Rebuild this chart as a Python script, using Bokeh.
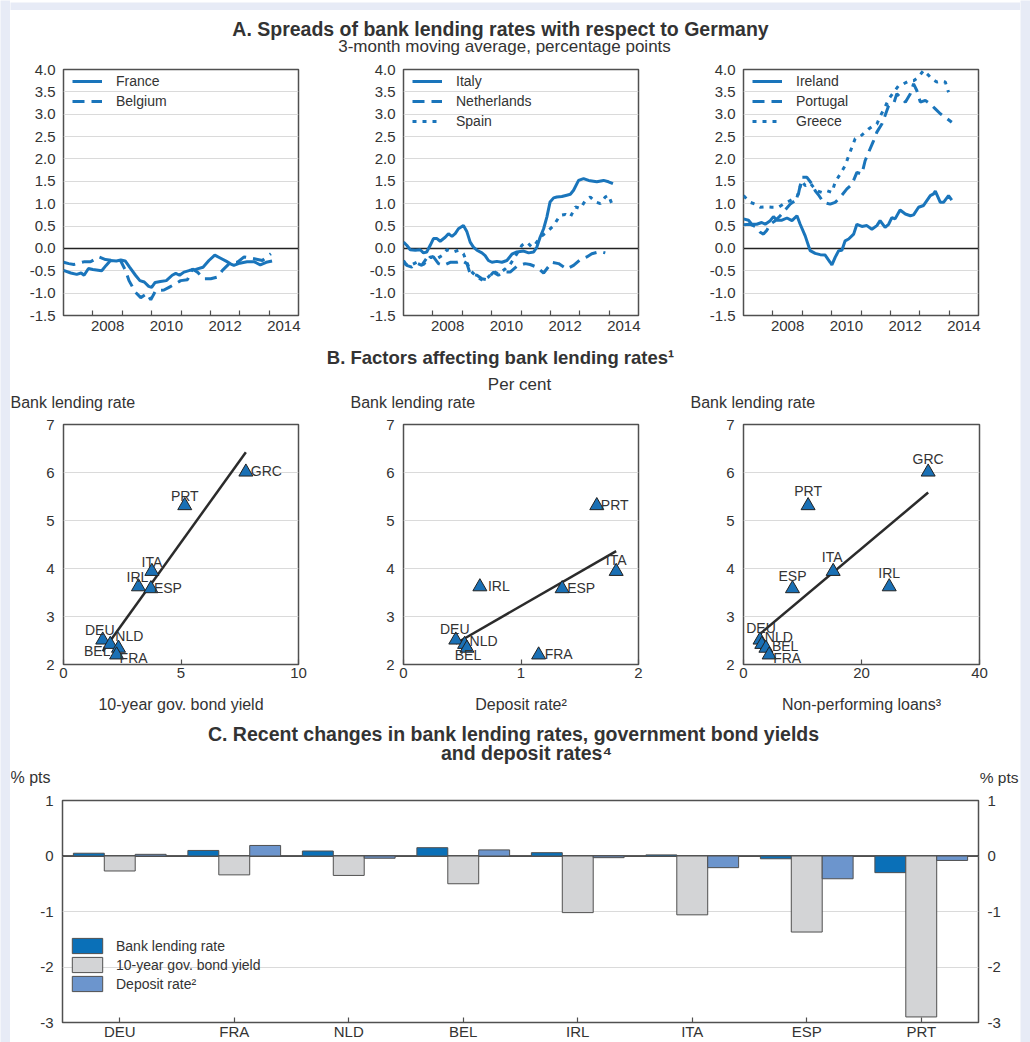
import numpy as np
from bokeh.plotting import figure
from bokeh.models import (Range1d, FixedTicker, Span, Label, Legend, LegendItem,
                          LinearAxis, FactorRange, ColumnDataSource, PrintfTickFormatter)
from bokeh.layouts import column, row
from bokeh.transform import dodge
from bokeh.embed import file_html
from bokeh.resources import INLINE
from bokeh.core.properties import value

FONT = "Liberation Sans"
TXT = "#333333"
LINE_BLUE = "#1a75bb"
FRAME = "#505050"
GRID = "#dadada"
TRI_BLUE = "#1a70b5"
PAGE_BG = "#e7ebf6"

# ---------------- Panel A data: (decimal year, spread in % pts) ----------------
france = [(2007.00,-0.49),(2007.25,-0.55),(2007.45,-0.58),(2007.60,-0.55),(2007.70,-0.60),(2007.85,-0.45),
          (2008.00,-0.47),(2008.30,-0.50),(2008.45,-0.38),(2008.60,-0.27),(2008.80,-0.28),(2008.95,-0.26),
          (2009.10,-0.28),(2009.25,-0.42),(2009.45,-0.60),(2009.60,-0.72),(2009.75,-0.75),(2009.90,-0.85),
          (2010.00,-0.87),(2010.12,-0.76),(2010.30,-0.74),(2010.50,-0.72),(2010.70,-0.60),(2010.82,-0.56),
          (2010.95,-0.60),(2011.10,-0.53),(2011.30,-0.49),(2011.50,-0.47),(2011.75,-0.42),(2011.95,-0.27),
          (2012.15,-0.15),(2012.35,-0.22),(2012.55,-0.29),(2012.70,-0.35),(2012.80,-0.38),(2013.00,-0.33),
          (2013.25,-0.30),(2013.50,-0.30),(2013.70,-0.37),(2013.90,-0.31),(2014.10,-0.28)]
belgium = [(2007.00,-0.31),(2007.18,-0.34),(2007.35,-0.36),(2007.69,-0.30),(2007.92,-0.30),(2008.20,-0.19),
           (2008.43,-0.25),(2008.72,-0.27),(2008.94,-0.27),(2009.11,-0.49),(2009.23,-0.72),(2009.45,-0.98),
           (2009.63,-1.10),(2009.85,-1.01),(2009.97,-1.15),(2010.14,-0.94),(2010.42,-0.93),(2010.59,-0.87),
           (2010.76,-0.81),(2010.99,-0.72),(2011.22,-0.70),(2011.39,-0.46),(2011.56,-0.53),(2011.78,-0.68),
           (2012.01,-0.68),(2012.24,-0.64),(2012.41,-0.49),(2012.69,-0.31),(2012.92,-0.31),(2013.15,-0.19),
           (2013.49,-0.23),(2013.77,-0.27),(2014.06,-0.12)]
italy = [(2007.00,0.14),(2007.11,0.07),(2007.23,-0.03),(2007.40,-0.04),(2007.57,-0.03),(2007.68,-0.10),
         (2007.79,-0.08),(2007.91,0.07),(2008.02,0.22),(2008.14,0.22),(2008.25,0.16),(2008.42,0.25),
         (2008.53,0.33),(2008.65,0.27),(2008.76,0.33),(2008.87,0.44),(2009.04,0.51),(2009.16,0.37),
         (2009.27,0.14),(2009.38,0.03),(2009.50,-0.04),(2009.67,-0.10),(2009.78,-0.16),(2009.89,-0.27),
         (2010.01,-0.31),(2010.18,-0.29),(2010.35,-0.31),(2010.52,-0.27),(2010.69,-0.13),(2010.86,-0.08),
         (2011.09,-0.06),(2011.26,-0.10),(2011.43,-0.08),(2011.54,0.03),(2011.65,0.25),(2011.77,0.44),
         (2011.88,0.70),(2011.99,1.04),(2012.11,1.13),(2012.22,1.15),(2012.39,1.16),(2012.56,1.19),
         (2012.68,1.21),(2012.79,1.30),(2012.96,1.52),(2013.13,1.56),(2013.30,1.52),(2013.58,1.49),
         (2013.81,1.52),(2013.98,1.49),(2014.13,1.45)]
netherlands = [(2007.00,-0.27),(2007.11,-0.38),(2007.28,-0.42),(2007.45,-0.33),(2007.62,-0.38),(2007.85,-0.16),
               (2008.02,-0.19),(2008.19,-0.34),(2008.36,-0.38),(2008.59,-0.31),(2008.82,-0.31),(2008.99,-0.27),
               (2009.16,-0.34),(2009.27,-0.57),(2009.50,-0.60),(2009.67,-0.68),(2009.84,-0.70),(2010.06,-0.53),
               (2010.23,-0.60),(2010.41,-0.53),(2010.63,-0.53),(2010.86,-0.40),(2011.14,-0.34),(2011.31,-0.36),
               (2011.54,-0.42),(2011.77,-0.55),(2012.05,-0.31),(2012.28,-0.34),(2012.56,-0.46),(2012.79,-0.38),
               (2013.02,-0.25),(2013.24,-0.19),(2013.41,-0.12),(2013.70,-0.07),(2013.87,-0.10)]
spain = [(2007.00,-0.34),(2007.23,-0.38),(2007.45,-0.31),(2007.68,-0.36),(2007.91,-0.19),(2008.14,-0.23),
         (2008.31,-0.16),(2008.48,-0.03),(2008.70,-0.08),(2008.87,-0.04),(2009.04,-0.12),(2009.27,-0.49),
         (2009.50,-0.64),(2009.72,-0.72),(2009.89,-0.64),(2010.06,-0.51),(2010.23,-0.57),(2010.46,-0.46),
         (2010.63,-0.36),(2010.86,-0.12),(2011.03,0.07),(2011.20,0.14),(2011.37,0.03),(2011.48,0.09),
         (2011.65,0.25),(2011.88,0.37),(2012.11,0.51),(2012.33,0.74),(2012.51,0.76),(2012.68,0.70),
         (2012.85,0.93),(2013.02,0.89),(2013.19,1.07),(2013.36,1.15),(2013.53,1.04),(2013.70,1.00),
         (2013.87,1.15),(2013.98,1.19),(2014.09,1.00)]
ireland = [(2007.00,0.66),(2007.17,0.63),(2007.28,0.54),(2007.45,0.54),(2007.62,0.58),(2007.74,0.54),
           (2007.91,0.62),(2008.02,0.71),(2008.14,0.63),(2008.31,0.63),(2008.48,0.68),(2008.65,0.62),
           (2008.82,0.73),(2008.93,0.54),(2009.10,0.28),(2009.27,-0.05),(2009.44,-0.11),(2009.61,-0.14),
           (2009.78,-0.15),(2009.95,-0.31),(2010.01,-0.37),(2010.12,-0.20),(2010.24,-0.05),(2010.35,-0.04),
           (2010.46,0.17),(2010.58,0.21),(2010.75,0.32),(2010.86,0.54),(2011.03,0.49),(2011.20,0.51),
           (2011.37,0.43),(2011.54,0.51),(2011.65,0.62),(2011.82,0.47),(2011.94,0.54),(2012.05,0.69),
           (2012.16,0.66),(2012.33,0.86),(2012.51,0.77),(2012.68,0.73),(2012.79,0.75),(2012.96,0.92),
           (2013.13,0.96),(2013.36,1.18),(2013.47,1.22),(2013.53,1.28),(2013.70,1.03),(2013.81,1.03),
           (2013.98,1.18),(2014.09,1.08)]
portugal = [(2007.00,0.53),(2007.23,0.54),(2007.40,0.49),(2007.57,0.36),(2007.68,0.32),(2007.79,0.40),
            (2007.91,0.54),(2008.08,0.62),(2008.25,0.73),(2008.42,0.86),(2008.59,0.99),(2008.76,1.07),
            (2008.87,1.22),(2008.99,1.59),(2009.16,1.59),(2009.33,1.44),(2009.44,1.29),(2009.55,1.20),
            (2009.72,1.03),(2009.95,0.99),(2010.12,1.03),(2010.29,1.14),(2010.52,1.33),(2010.69,1.43),
            (2010.86,1.70),(2011.03,1.66),(2011.14,1.96),(2011.26,2.15),(2011.43,2.41),(2011.54,2.60),
            (2011.71,2.78),(2011.82,2.97),(2011.94,3.19),(2012.11,3.23),(2012.22,3.46),(2012.39,3.34),
            (2012.51,3.27),(2012.68,3.46),(2012.79,3.68),(2012.90,3.53),(2013.02,3.27),(2013.19,3.31),
            (2013.36,3.23),(2013.53,3.12),(2013.70,3.01),(2013.87,2.93),(2014.09,2.82)]
greece = [(2007.00,1.18),(2007.23,1.03),(2007.40,0.99),(2007.57,0.92),(2007.79,0.93),(2007.96,0.92),
          (2008.19,0.92),(2008.36,0.99),(2008.59,1.07),(2008.82,1.14),(2008.99,1.51),(2009.10,1.40),
          (2009.27,1.46),(2009.38,1.37),(2009.50,1.29),(2009.67,1.25),(2009.84,1.29),(2010.01,1.25),
          (2010.12,1.48),(2010.29,1.66),(2010.46,1.85),(2010.58,2.07),(2010.69,2.26),(2010.80,2.45),
          (2010.97,2.50),(2011.14,2.60),(2011.26,2.67),(2011.43,2.75),(2011.54,2.78),(2011.65,2.95),
          (2011.82,3.16),(2011.94,3.34),(2012.11,3.49),(2012.28,3.64),(2012.45,3.68),(2012.62,3.74),
          (2012.79,3.75),(2012.96,3.83),(2013.13,3.98),(2013.30,3.87),(2013.41,3.79),(2013.58,3.72),
          (2013.70,3.74),(2013.87,3.72),(2013.98,3.49)]

a_yticks = [-1.5, -1.0, -0.5, 0.0, 0.5, 1.0, 1.5, 2.0, 2.5, 3.0, 3.5, 4.0]
a_year_ticks = [2008, 2009, 2010, 2011, 2012, 2013, 2014]
a_year_labels = {2008.5: "2008", 2010.5: "2010", 2012.5: "2012", 2014.5: "2014"}

# ---------------- Panel B data ----------------
b_countries = ["DEU", "NLD", "BEL", "FRA", "IRL", "ESP", "ITA", "PRT", "GRC"]
b_lending = [2.51, 2.42, 2.34, 2.20, 3.62, 3.58, 3.94, 5.31, 6.01]
b_bond = [1.67, 1.99, 2.34, 2.26, 3.19, 3.72, 3.76, 5.16, 7.76]
b_deposit = [0.445, 0.52, 0.54, 1.15, 0.65, 1.35, 1.81, 1.645, None]
b_npl = [2.8, 3.1, 3.8, 4.35, 24.7, 8.3, 15.2, 10.95, 31.3]

# ---------------- Panel C data ----------------
c_countries = ["DEU", "FRA", "NLD", "BEL", "IRL", "ITA", "ESP", "PRT"]
c_lending = [0.05, 0.10, 0.09, 0.15, 0.06, 0.02, -0.05, -0.30]
c_bond = [-0.27, -0.34, -0.35, -0.50, -1.02, -1.06, -1.37, -2.90]
c_deposit = [0.03, 0.19, -0.04, 0.11, -0.03, -0.21, -0.41, -0.08]
c_yticks = [-3, -2, -1, 0, 1]

X0, X1 = 10, 1020          # white content area (page px)
CW = X1 - X0


def new_fig(**kw):
    return figure(output_backend="svg", toolbar_location=None, title=None, frame_align=False, **kw)


def style_common(p):
    p.outline_line_color = FRAME
    p.outline_line_width = 1.5
    p.background_fill_color = "white"
    p.border_fill_color = "white"
    p.xgrid.visible = False
    p.ygrid.grid_line_color = GRID
    p.ygrid.grid_line_width = 1
    for ax in list(p.xaxis) + list(p.yaxis):
        ax.axis_line_color = None
        ax.major_label_text_font = FONT
        ax.major_label_text_color = TXT
        ax.major_label_text_font_size = "15px"
        ax.minor_tick_line_color = None
        ax.major_tick_line_color = None
        ax.major_tick_in = 0
        ax.major_tick_out = 0
        ax.minor_tick_in = 0
        ax.minor_tick_out = 0


def strip(w, h):
    p = new_fig(width=w, height=h, min_border=0, x_axis_type=None, y_axis_type=None,
                x_range=Range1d(0, 1), y_range=Range1d(0, 1))
    p.outline_line_color = None
    p.background_fill_color = PAGE_BG
    p.border_fill_color = PAGE_BG
    return p


def header(y0, y1, texts):
    # header figure whose data coordinates equal page pixel coordinates
    p = new_fig(width=CW, height=y1 - y0, x_range=Range1d(X0, X1), y_range=Range1d(y1, y0),
                min_border=0, x_axis_type=None, y_axis_type=None)
    p.outline_line_color = None
    p.background_fill_color = "white"
    p.border_fill_color = "white"
    for (x, y, txt, size, bold, align) in texts:
        p.add_layout(Label(x=x, y=y, text=txt, text_font=FONT, text_font_size=size,
                           text_font_style="bold" if bold else "normal", text_color=TXT,
                           text_align=align, text_baseline="middle"))
    return p


def panel_a(width, ml, mr, series):
    p = new_fig(width=width, height=281, x_range=Range1d(2007, 2015), y_range=Range1d(-1.5, 4.0),
                min_border_left=ml, min_border_right=mr, min_border_top=10, min_border_bottom=25)
    style_common(p)
    p.yaxis.ticker = FixedTicker(ticks=a_yticks)
    p.yaxis.formatter = PrintfTickFormatter(format="%.1f")
    p.yaxis.major_label_standoff = 8
    p.xaxis.ticker = FixedTicker(ticks=list(a_year_labels.keys()), minor_ticks=a_year_ticks)
    p.xaxis.major_label_overrides = a_year_labels
    p.xaxis.minor_tick_line_color = FRAME
    p.xaxis.minor_tick_line_width = 1.2
    p.xaxis.minor_tick_in = 5
    p.xaxis.major_label_standoff = 5
    p.add_layout(Span(location=0, dimension="width", line_color="#222222", line_width=1.5, level="underlay"))
    items = []
    for name, pts, dash in series:
        t, v = zip(*pts)
        r = p.line(list(t), list(v), line_color=LINE_BLUE, line_width=3, line_dash=dash)
        items.append(LegendItem(label=name, renderers=[r]))
    n = len(items)
    leg = Legend(items=items, location=(9, 246 - 20 * n - 2), margin=0, padding=0, spacing=0,
                 glyph_width=30, glyph_height=20, label_height=20, label_standoff=14,
                 label_text_font=FONT, label_text_font_size="14px", label_text_color=TXT,
                 background_fill_alpha=0, border_line_alpha=0)
    p.add_layout(leg)
    return p


def panel_b(width, ml, mr, xs, xmax, xticks, xlabel, offsets):
    p = new_fig(width=width, height=306, x_range=Range1d(0, xmax), y_range=Range1d(2, 7),
                min_border_left=ml, min_border_right=mr, min_border_top=12, min_border_bottom=54)
    style_common(p)
    p.yaxis.ticker = FixedTicker(ticks=[2, 3, 4, 5, 6, 7])
    p.yaxis.major_label_standoff = 9
    p.xaxis.ticker = FixedTicker(ticks=xticks)
    p.xaxis.major_tick_in = 5
    p.xaxis.major_tick_line_color = FRAME
    p.xaxis.major_tick_line_width = 1.2
    p.xaxis.major_label_standoff = 3
    p.xaxis.axis_label = xlabel
    p.xaxis.axis_label_text_font = FONT
    p.xaxis.axis_label_text_font_size = "16px"
    p.xaxis.axis_label_text_font_style = "normal"
    p.xaxis.axis_label_text_color = TXT
    p.xaxis.axis_label_standoff = 15

    pts = [(c, x, y) for c, x, y in zip(b_countries, xs, b_lending) if x is not None]
    cs = [q[0] for q in pts]
    xv = np.array([q[1] for q in pts], dtype=float)
    yv = np.array([q[2] for q in pts], dtype=float)
    slope, icpt = np.polyfit(xv, yv, 1)
    fx = np.array([xv.min(), xv.max()])
    p.line(fx, slope * fx + icpt, line_color="#2b2b2b", line_width=2.5)
    p.scatter(xv, yv, marker="triangle", size=14, fill_color=TRI_BLUE, line_color="#222222", line_width=1)

    for align in ("left", "center", "right"):
        sel = [i for i, c in enumerate(cs) if offsets[c][2] == align]
        if not sel:
            continue
        src = ColumnDataSource(dict(
            x=[xv[i] for i in sel], y=[yv[i] for i in sel], name=[cs[i] for i in sel],
            dx=[offsets[cs[i]][0] for i in sel], dy=[offsets[cs[i]][1] for i in sel]))
        p.text(x="x", y="y", text="name", x_offset="dx", y_offset="dy", source=src,
               text_align=align, text_baseline="middle", text_font=value(FONT),
               text_font_size="14px", text_color=TXT)
    return p


# ---------------- headers (page-pixel coordinates) ----------------
top_strip = strip(CW, 10)
hdr_a = header(10, 59, [
    (500, 28, "A. Spreads of bank lending rates with respect to Germany", "19.5px", True, "center"),
    (504, 46, "3-month moving average, percentage points", "17px", False, "center"),
])
hdr_b = header(340, 412, [
    (500, 357, "B. Factors affecting bank lending rates\u00b9", "18.5px", True, "center"),
    (519, 384, "Per cent", "17px", False, "center"),
    (10, 402, "Bank lending rate", "16px", False, "left"),
    (350, 402, "Bank lending rate", "16px", False, "left"),
    (690, 402, "Bank lending rate", "16px", False, "left"),
])
hdr_c = header(718, 788, [
    (513, 733, "C. Recent changes in bank lending rates, government bond yields", "19.5px", True, "center"),
    (526, 752, "and deposit rates\u2074", "19.5px", True, "center"),
    (10, 777, "% pts", "16px", False, "left"),
    (1018, 777, "% pts", "15.5px", False, "right"),
])

# ---------------- Panel A ----------------
a1 = panel_a(330, 53, 42, [("France", france, "solid"), ("Belgium", belgium, "12 7")])
a2 = panel_a(340, 63, 42, [("Italy", italy, "solid"), ("Netherlands", netherlands, "12 7"), ("Spain", spain, "4 6")])
a3 = panel_a(340, 63, 42, [("Ireland", ireland, "solid"), ("Portugal", portugal, "12 7"), ("Greece", greece, "4 6")])

# ---------------- Panel B ----------------
offs1 = {"GRC": (5, -1, "left"), "PRT": (0, -10, "center"), "ITA": (0, -9, "center"),
         "IRL": (-1, -10, "center"), "ESP": (3, -1, "left"), "DEU": (-3, -10, "center"),
         "NLD": (5, -8, "left"), "BEL": (-8, 3, "right"), "FRA": (3, 3, "left")}
offs2 = {"PRT": (4, -1, "left"), "ITA": (0, -11, "center"), "IRL": (8, -1, "left"),
         "ESP": (5, -1, "left"), "DEU": (-1, -11, "center"), "NLD": (5, -3, "left"),
         "BEL": (1, 7, "center"), "FRA": (6, -1, "left")}
offs3 = {"GRC": (0, -13, "center"), "PRT": (0, -15, "center"), "ITA": (-1, -14, "center"),
         "ESP": (0, -13, "center"), "IRL": (0, -14, "center"), "DEU": (1, -12, "center"),
         "NLD": (3, -7, "left"), "BEL": (6, -2, "left"), "FRA": (4, 3, "left")}
b1 = panel_b(330, 53, 42, b_bond, 10, [0, 5, 10], "10-year gov. bond yield", offs1)
b2 = panel_b(340, 63, 42, b_deposit, 2, [0, 1, 2], "Deposit rate\u00b2", offs2)
b3 = panel_b(340, 63, 41, b_npl, 40, [0, 20, 40], "Non-performing loans\u00b3", offs3)

# ---------------- Panel C ----------------
C_H, C_TOP, C_BOT = 254, 12, 19
c_frame_h = C_H - C_TOP - C_BOT
pc = new_fig(width=CW, height=C_H, x_range=FactorRange(*c_countries), y_range=Range1d(-3, 1),
             min_border_left=52, min_border_right=42, min_border_top=C_TOP, min_border_bottom=C_BOT)
pc.add_layout(LinearAxis(ticker=FixedTicker(ticks=c_yticks)), "right")
style_common(pc)
pc.yaxis.ticker = FixedTicker(ticks=c_yticks)
pc.yaxis.formatter = PrintfTickFormatter(format="%d")
pc.yaxis.major_label_standoff = 9
pc.xaxis.major_tick_in = 5
pc.xaxis.major_tick_line_color = FRAME
pc.xaxis.major_tick_line_width = 1.2
pc.xaxis.major_label_standoff = 0
pc.add_layout(Span(location=0, dimension="width", line_color="#222222", line_width=1.5, level="underlay"))
csrc = ColumnDataSource(dict(cat=c_countries, lend=c_lending, bond=c_bond, dep=c_deposit))
bw = 0.27
r1 = pc.vbar(x=dodge("cat", -bw, range=pc.x_range), top="lend", width=bw, source=csrc,
             fill_color="#0a70b8", line_color=FRAME, line_width=1)
r2 = pc.vbar(x=dodge("cat", 0, range=pc.x_range), top="bond", width=bw, source=csrc,
             fill_color="#d3d4d6", line_color=FRAME, line_width=1)
r3 = pc.vbar(x=dodge("cat", bw, range=pc.x_range), top="dep", width=bw, source=csrc,
             fill_color="#6c95cd", line_color=FRAME, line_width=1)
leg_c = Legend(items=[LegendItem(label="Bank lending rate", renderers=[r1]),
                      LegendItem(label="10-year gov. bond yield", renderers=[r2]),
                      LegendItem(label="Deposit rate\u00b2", renderers=[r3])],
               location=(6, int(c_frame_h - 57 - 137)), margin=0, padding=0, spacing=0,
               glyph_width=38, glyph_height=19, label_height=19, label_standoff=10,
               label_text_font=FONT, label_text_font_size="14px", label_text_color=TXT,
               background_fill_alpha=0, border_line_alpha=0)
pc.add_layout(leg_c)

content = column(top_strip, hdr_a, row(a1, a2, a3), hdr_b, row(b1, b2, b3), hdr_c, pc)
layout = row(strip(X0, 1042), content, strip(1030 - X1, 1042))

open("out.html", "w").write(file_html(layout, INLINE))
